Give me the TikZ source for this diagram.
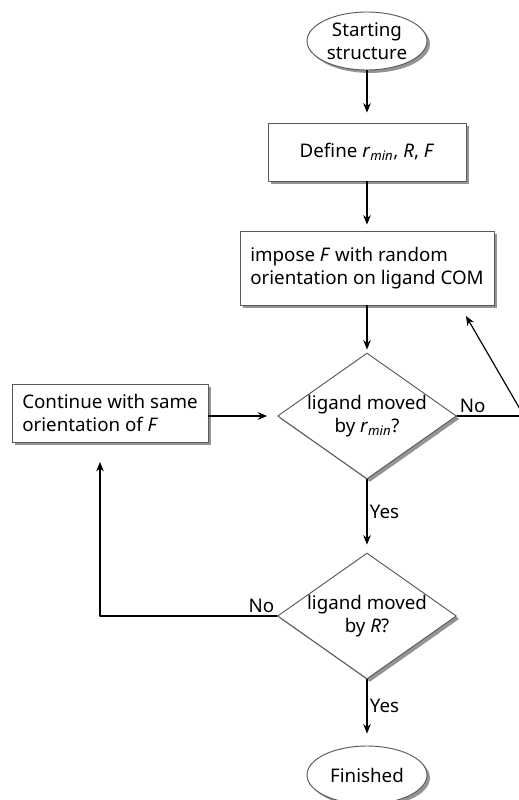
\documentclass[tikz,border=0pt]{standalone}
\usepackage{fontspec}
\setmainfont{Noto Sans}
\usetikzlibrary{arrows.meta,shapes.geometric,shadows}

\newcommand{\rmin}{\textit{r}\textsubscript{\textit{min}}}

\begin{document}
\begin{tikzpicture}[x=0.3mm, y=0.3mm, line cap=round, line join=round, >={Stealth[length=8pt,width=6.5pt]},
  shade box/.style={draw=black!65, fill=white, line width=0.8pt,
    drop shadow={shadow xshift=2.5pt, shadow yshift=-2.5pt, opacity=0.6, fill=black!70},
    font=\fontsize{16}{19.5}\selectfont},
  term/.style={shade box, ellipse, inner sep=0pt, minimum width=36mm, minimum height=17.4mm, align=center},
  process/.style={shade box, rectangle, inner sep=0pt},
  decision/.style={shade box, diamond, aspect=1.42, inner sep=0pt, minimum width=53.4mm, minimum height=37.5mm, align=center},
  flow/.style={->, line width=1pt},
  lbl/.style={font=\fontsize{16}{19.5}\selectfont, inner sep=2pt}]

\useasboundingbox (0,0) rectangle (519,-800);
\clip (0,0) rectangle (519,-800);

% nodes
\node[term] (start) at (367,-41) {Starting\\structure};
\node[process, minimum width=59.4mm, minimum height=17.4mm] (define) at (367,-152) {Define \rmin, \textit{R}, \textit{F}};
\node[process, minimum width=76.2mm, minimum height=22.2mm, align=left] (impose) at (367,-268) {impose \textit{F} with random\\orientation on ligand COM};
\node[decision] (moved1) at (367,-416) {ligand moved\\by \rmin?};
\node[process, minimum width=58.8mm, minimum height=17.4mm, align=left] (cont) at (110,-413) {Continue with same\\orientation of \textit{F}};
\node[decision] (moved2) at (367,-616) {ligand moved\\by \textit{R}?};
\node[term] (finish) at (367,-775) {Finished};

\coordinate (turn) at (524,-416);
\coordinate (back) at (466,-316);
\coordinate (up) at (100,-462);

% connectors
\draw[flow, shorten >=3mm] (start) -- (define);
\draw[flow, shorten >=1.8mm] (define) -- (impose);
\draw[flow, shorten >=0.9mm] (impose) -- (moved1);
\draw[flow, shorten >=2.4mm] (moved1) -- node[lbl, right, pos=0.45] {Yes} (moved2);
\draw[flow, shorten >=3.6mm] (moved2) -- node[lbl, right, pos=0.4] {Yes} (finish);
\draw[flow, shorten >=3mm] (cont.east |- moved1.west) -- (moved1.west);
\draw[line width=1pt] (moved1.east) node[lbl, above right] {No} -- (turn);
\draw[flow] (turn) -- (back);
\draw[flow] (moved2.west) node[lbl, above left] {No} -- (moved2.west -| up) -- (up);

\end{tikzpicture}
\end{document}
